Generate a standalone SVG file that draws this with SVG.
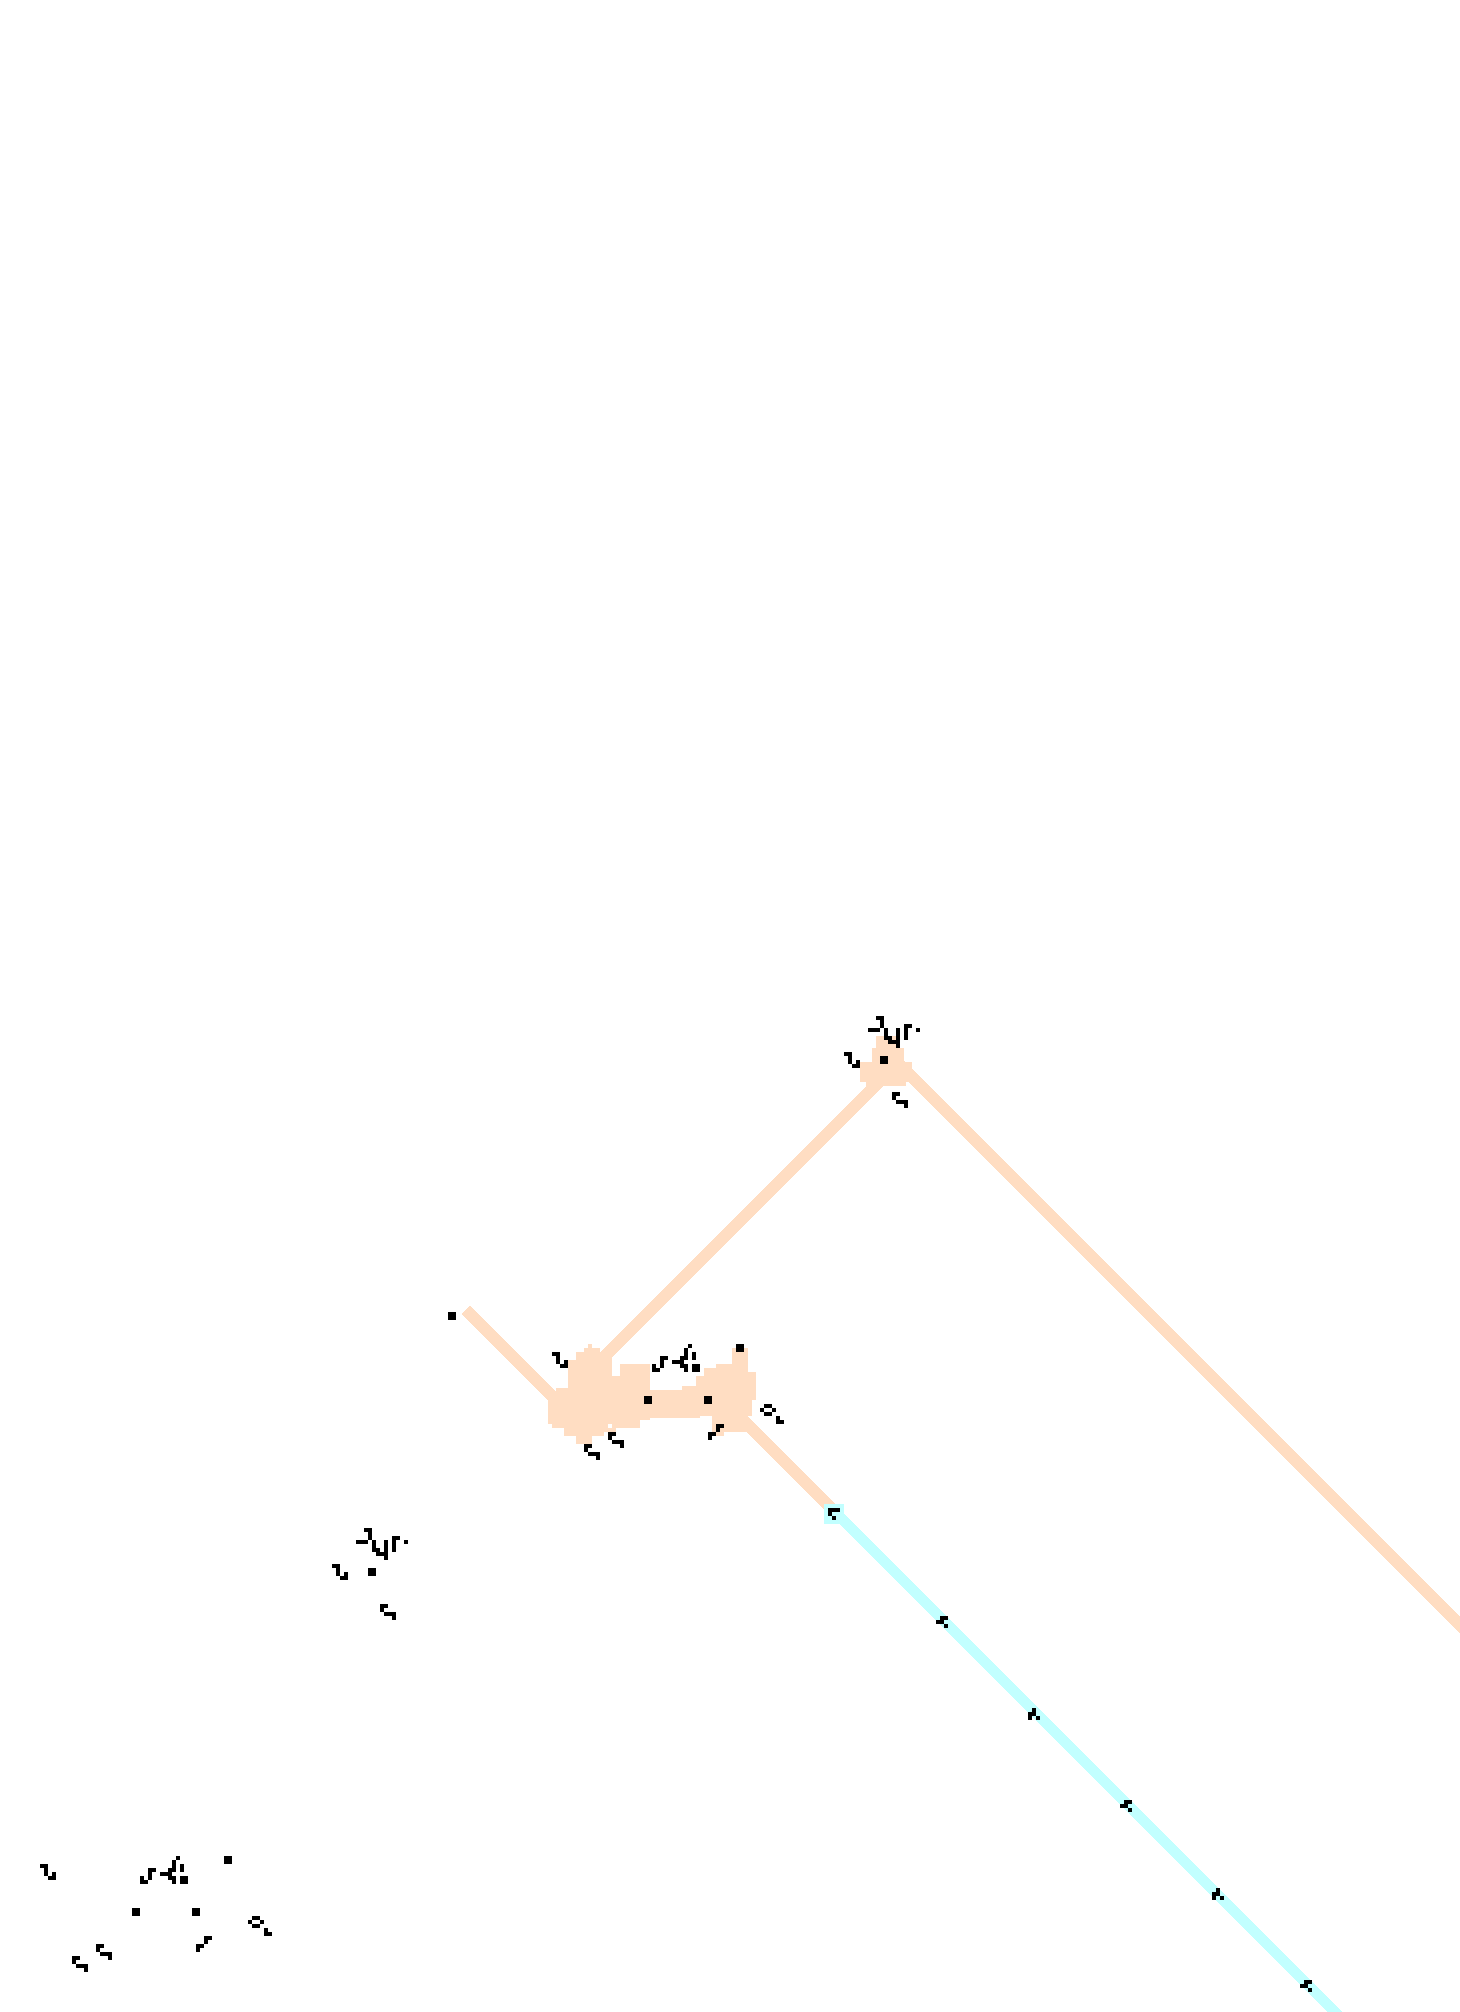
<svg xmlns="http://www.w3.org/2000/svg" width="1460" height="2012" viewBox="0 0 1460 2012">
<style>
.p{fill:#FFDDC2}
.ps{stroke:#FFDDC2;stroke-width:11.5;fill:none;stroke-linecap:butt}
.cs{stroke:#C2FFFF;stroke-width:10;fill:none;stroke-linecap:butt}
.c{fill:#C2FFFF}
.k{fill:#000}
</style>
<defs>
<path id="gA" class="k" d="M0 0h8v4h-8z M4 4h4v8h-4z M12 8h4v4h-4z M8 12h8v4h-8z"/>
<path id="gS" class="k" d="M0 0h8v4h-8z M0 4h4v4h-4z M4 8h12v4h-12z M12 12h4v4h-4z"/>
<path id="gV" class="k" d="M8 0h8v4h-8z M8 4h4v8h-4z M0 8h4v4h-4z M0 12h8v4h-8z"/>
<path id="gL" class="k" d="M8 0h8v4h-8z M8 4h4v4h-4z M0 8h8v4h-8z M0 12h4v4h-4z"/>
<path id="gO" class="k" d="M4 0h8v4h-8z M0 4h4v4h-4z M12 4h4v4h-4z M4 8h8v4h-8z M16 12h4v4h-4z M16 16h8v4h-8z"/>
<path id="gT" class="k" d="M16 0h4v4h-4z M12 4h4v12h-4z M20 8h4v8h-4z M8 12h4v4h-4z M0 16h12v4h-12z M8 20h8v4h-8z M12 24h4v4h-4z M20 20h8v8h-8z"/>
<path id="gG" class="k" d="M8 0h8v4h-8z M12 4h4v8h-4z M36 8h8v4h-8z M0 12h12v4h-12z M16 12h4v12h-4z M28 12h4v20h-4z M36 12h4v12h-4z M48 12h4v4h-4z M20 20h4v8h-4z M24 24h4v4h-4z"/>
<rect id="blk" class="k" width="8" height="8"/>
<path id="c1" class="k" d="M0 0h12v4h-12z M0 4h4v4h-4z M4 8h4v4h-4z"/>
<path id="c2" class="k" d="M4 0h8v4h-8z M0 4h8v4h-8z M8 8h4v4h-4z"/>
<path id="c5" class="k" d="M4 0h4v4h-4z M0 4h8v4h-8z M0 8h4v4h-4z M8 8h4v4h-4z"/>
<g id="gunGroup">
<use href="#gG" x="868" y="1016"/>
<use href="#gA" x="844" y="1052"/>
<use href="#blk" x="880" y="1056"/>
<use href="#gS" x="892" y="1092"/>
</g>
<g id="blobGroup">
<use href="#gA" x="552" y="1352"/>
<use href="#gV" x="652" y="1356"/>
<use href="#gT" x="672" y="1344"/>
<use href="#blk" x="736" y="1344"/>
<use href="#blk" x="644" y="1396"/>
<use href="#blk" x="704" y="1396"/>
<use href="#gO" x="760" y="1404"/>
<use href="#gL" x="708" y="1424"/>
<use href="#gS" x="608" y="1432"/>
<use href="#gS" x="584" y="1444"/>
</g>
</defs>
<rect width="1460" height="2012" fill="#fff"/>
<g id="trails" shape-rendering="crispEdges">
<path class="ps" d="M466 1310 L562 1406"/>
<path class="ps" d="M598 1363 L892 1069"/>
<path class="ps" d="M890 1055 L1490 1655"/>
<path class="ps" d="M738 1415 L834 1511"/>
<path class="cs" d="M834 1511 L1346 2023"/>
<rect class="c" x="824" y="1504" width="20" height="20"/>
</g>
<g id="junction" class="p" shape-rendering="crispEdges">
<rect x="876" y="1036" width="20" height="12"/>
<rect x="872" y="1048" width="32" height="14"/>
<rect x="860" y="1062" width="52" height="20"/>
<rect x="866" y="1082" width="40" height="4"/>
</g>
<g id="blob" class="p" shape-rendering="crispEdges">
<rect x="588" y="1344" width="4" height="4"/>
<rect x="584" y="1348" width="16" height="4"/>
<rect x="576" y="1352" width="36" height="8"/>
<rect x="568" y="1360" width="44" height="16"/>
<rect x="568" y="1376" width="82" height="12"/>
<rect x="620" y="1364" width="30" height="12"/>
<rect x="556" y="1388" width="94" height="4"/>
<rect x="548" y="1392" width="102" height="28"/>
<rect x="548" y="1420" width="92" height="4"/>
<rect x="552" y="1424" width="56" height="4"/>
<rect x="612" y="1420" width="28" height="8"/>
<rect x="564" y="1428" width="40" height="8"/>
<rect x="576" y="1436" width="16" height="8"/>
<rect x="604" y="1428" width="12" height="4"/>
<rect x="650" y="1390" width="50" height="28"/>
<rect x="682" y="1386" width="14" height="4"/>
<rect x="696" y="1376" width="56" height="40"/>
<rect x="704" y="1368" width="44" height="8"/>
<rect x="716" y="1364" width="32" height="4"/>
<rect x="732" y="1348" width="16" height="16"/>
<rect x="748" y="1372" width="8" height="28"/>
<rect x="712" y="1416" width="36" height="16"/>
<rect x="716" y="1432" width="8" height="4"/>
</g>
<g id="cells">
<rect class="k" x="448" y="1312" width="8" height="8"/>
<use href="#gunGroup"/>
<use href="#gunGroup" transform="translate(-512 512)"/>
<use href="#blobGroup"/>
<use href="#blobGroup" transform="translate(-512 512)"/>
<use href="#c1" x="828" y="1508"/>
<use href="#c2" x="936" y="1616"/>
<use href="#c5" x="1028" y="1708"/>
<use href="#c2" x="1120" y="1800"/>
<use href="#c5" x="1212" y="1888"/>
<use href="#c2" x="1300" y="1980"/>
</g>
</svg>
